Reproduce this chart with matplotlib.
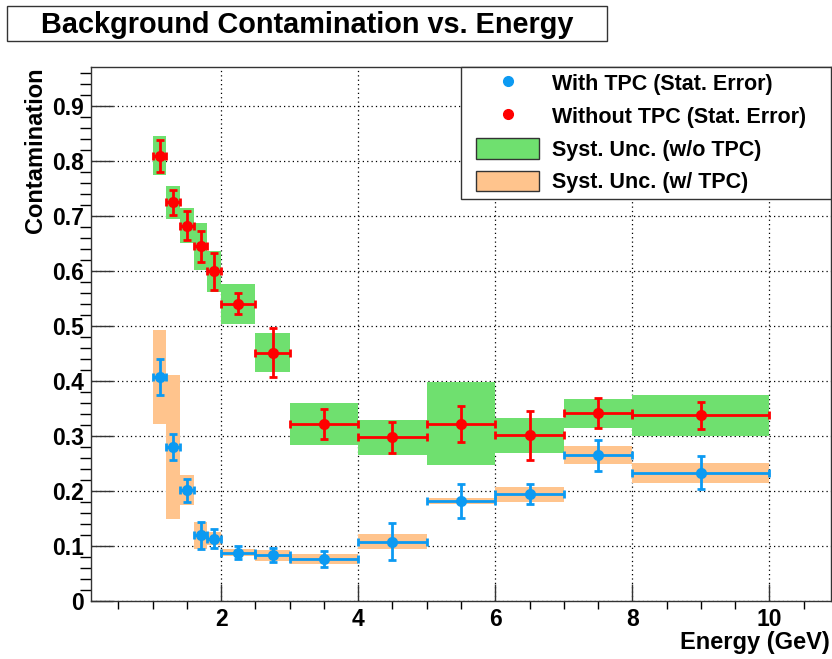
import numpy as np
import matplotlib.pyplot as plt
from matplotlib.patches import Patch, Rectangle
from matplotlib.lines import Line2D
from matplotlib.legend_handler import HandlerPatch
from matplotlib.ticker import MultipleLocator

plt.rcParams['font.family'] = ['Liberation Sans', 'DejaVu Sans']
plt.rcParams['font.weight'] = 'bold'
plt.rcParams['axes.labelweight'] = 'bold'

# energy bins (GeV)
bin_lo = np.array([1.0, 1.2, 1.4, 1.6, 1.8, 2.0, 2.5, 3.0, 4.0, 5.0, 6.0, 7.0, 8.0])
bin_hi = np.array([1.2, 1.4, 1.6, 1.8, 2.0, 2.5, 3.0, 4.0, 5.0, 6.0, 7.0, 8.0, 10.0])

# without TPC
wo_val = np.array([0.809, 0.724, 0.682, 0.644, 0.599, 0.540, 0.451, 0.322, 0.297, 0.322, 0.301, 0.341, 0.337])
wo_stat = np.array([0.029, 0.023, 0.027, 0.029, 0.034, 0.019, 0.045, 0.027, 0.028, 0.033, 0.045, 0.027, 0.025])
wo_syst = np.array([0.035, 0.030, 0.032, 0.042, 0.037, 0.036, 0.035, 0.038, 0.031, 0.075, 0.032, 0.026, 0.0375])

# with TPC
w_val = np.array([0.407, 0.280, 0.201, 0.119, 0.113, 0.088, 0.083, 0.076, 0.108, 0.182, 0.194, 0.265, 0.233])
w_stat = np.array([0.032, 0.024, 0.021, 0.024, 0.017, 0.0125, 0.013, 0.0145, 0.033, 0.031, 0.018, 0.028, 0.030])
w_syst = np.array([0.085, 0.131, 0.027, 0.025, 0.012, 0.006, 0.010, 0.009, 0.014, 0.006, 0.0135, 0.017, 0.018])

x_ticks = [2, 4, 6, 8, 10]
y_ticks = [0, 0.1, 0.2, 0.3, 0.4, 0.5, 0.6, 0.7, 0.8, 0.9]
y_labels = ['0', '0.1', '0.2', '0.3', '0.4', '0.5', '0.6', '0.7', '0.8', '0.9']

green = '#6fe06f'
orange = '#ffc48d'
blue = '#0c9af2'
red = '#ff0000'

x = (bin_lo + bin_hi) / 2
xerr = (bin_hi - bin_lo) / 2

fig = plt.figure(figsize=(8.32, 6.59), dpi=100)
ax = fig.add_axes([91/832, 58/659, 740/832, 534/659])

# systematic boxes
ax.bar(x, 2*wo_syst, bottom=wo_val - wo_syst, width=bin_hi - bin_lo, color=green, zorder=2)
ax.bar(x, 2*w_syst, bottom=w_val - w_syst, width=bin_hi - bin_lo, color=orange, zorder=2)

# stat errors
ax.errorbar(x, w_val, xerr=xerr, yerr=w_stat, fmt='o', color=blue, ms=7,
            elinewidth=2, capsize=3, capthick=2, zorder=4)
ax.errorbar(x, wo_val, xerr=xerr, yerr=wo_stat, fmt='o', color=red, ms=7,
            elinewidth=2, capsize=3, capthick=2, zorder=4)

ax.set_xlim(0.1, 10.9)
ax.set_ylim(0, 0.97)
ax.set_xticks(x_ticks)
ax.set_xticklabels([str(t) for t in x_ticks])
ax.set_yticks(y_ticks)
ax.set_yticklabels(y_labels)
ax.xaxis.set_minor_locator(MultipleLocator(0.5))
ax.yaxis.set_minor_locator(MultipleLocator(0.02))
ax.tick_params(direction='in', labelsize=16.5, pad=5, color='#333')
ax.tick_params(axis='y', which='major', length=16, width=1)
ax.tick_params(axis='y', which='minor', length=8, width=1)
ax.tick_params(axis='x', which='major', length=12, width=1)
ax.tick_params(axis='x', which='minor', length=6, width=1)
ax.grid(True, which='major', color='k', ls=(0, (1, 2.5)), lw=0.9, zorder=1)
ax.set_axisbelow(True)
for s in ax.spines.values():
    s.set_color('#333')
    s.set_linewidth(1)

ax.set_xlabel('Energy (GeV)', fontsize=17, fontweight='bold', loc='right')
ax.xaxis.set_label_coords(0.998, -0.056)
ax.set_ylabel('Contamination', fontsize=17, fontweight='bold', loc='top')
ax.yaxis.set_label_coords(-0.059, 1.0)

def inset_box(legend, orig_handle, xdescent, ydescent, width, height, fontsize):
    pad = 0.118 * width
    return Rectangle((-xdescent + pad, -ydescent), width - 2*pad, height)

handles = [Line2D([], [], marker='o', ls='none', color=blue, ms=7),
           Line2D([], [], marker='o', ls='none', color=red, ms=7),
           Patch(fc=green, ec='#333', lw=1),
           Patch(fc=orange, ec='#333', lw=1)]
labels = ['With TPC (Stat. Error)', 'Without TPC (Stat. Error)',
          'Syst. Unc. (w/o TPC)', 'Syst. Unc. (w/ TPC)']
leg = ax.legend(handles, labels, loc='upper right', bbox_to_anchor=(0.5, 0, 0.5, 1),
                mode='expand', borderaxespad=0, fontsize=15.5, fancybox=False,
                edgecolor='#333', framealpha=1, borderpad=0.25, labelspacing=0.47,
                handlelength=3.85, handleheight=1.1, handletextpad=0.15,
                handler_map={Patch: HandlerPatch(patch_func=inset_box)})
leg.get_frame().set_linewidth(1)
leg.set_zorder(5)

# title box
fig.add_artist(Rectangle((7/832, 1 - 41/659), 600/832, 35/659, transform=fig.transFigure,
                         fill=False, ec='#333', lw=1))
fig.text(307/832, 1 - 33/659, 'Background Contamination vs. Energy', ha='center',
         va='baseline', fontsize=20.8, fontweight='bold')

fig.savefig('out.png', dpi=100)
